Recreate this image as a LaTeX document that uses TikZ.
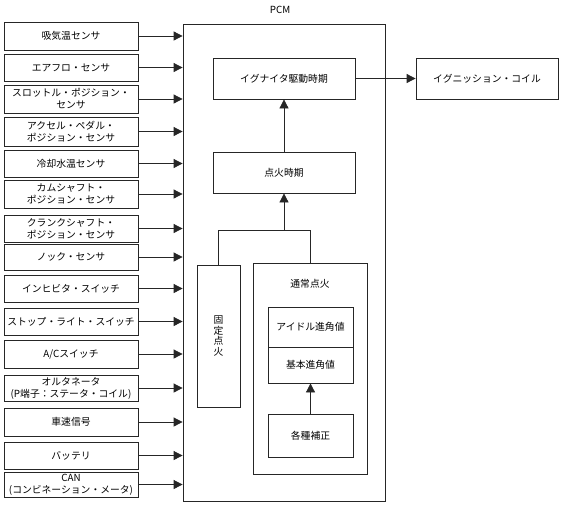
\documentclass[tikz,border=0pt]{standalone}
\usepackage{fontspec}
\setmainfont{Noto Sans CJK JP}
\usetikzlibrary{arrows.meta}
\begin{document}
\begin{tikzpicture}[x=1pt,y=-1pt,
  box/.style={draw=black!85, line width=0.8pt, inner sep=0pt, align=center,
    font=\fontsize{9.8}{12}\selectfont},
  inbox/.style={box, minimum width=134pt},
  conn/.style={draw=black!85, line width=0.8pt},
  arr/.style={conn, -{Triangle[length=9pt,width=9pt]}},
  lbl/.style={font=\fontsize{9.8}{12}\selectfont, inner sep=0pt, align=center}]
\useasboundingbox (0,0) rectangle (561,504);
% PCM
\node[box, minimum width=202pt, minimum height=477pt] (pcm) at (284,262.5) {};
\node[lbl] (pcmlbl) at (280,10) {PCM};
% inputs
\node[inbox, minimum height=28pt] (s1) at (71,36) {吸気温センサ};
\node[inbox, minimum height=27pt] (s2) at (71,67.5) {エアフロ・センサ};
\node[inbox, minimum height=28pt] (s3) at (71,99) {スロットル・ポジション・\\センサ};
\node[inbox, minimum height=29pt] (s4) at (71,131.5) {アクセル・ペダル・\\ポジション・センサ};
\node[inbox, minimum height=27pt] (s5) at (71,163.5) {冷却水温センサ};
\node[inbox, minimum height=28pt] (s6) at (71,194) {カムシャフト・\\ポジション・センサ};
\node[inbox, minimum height=27pt] (s7) at (71,228.5) {クランクシャフト・\\ポジション・センサ};
\node[inbox, minimum height=26pt] (s8) at (71,257) {ノック・センサ};
\node[inbox, minimum height=27pt] (s9) at (71,288.5) {インヒビタ・スイッチ};
\node[inbox, minimum height=27pt] (s10) at (71,321.5) {ストップ・ライト・スイッチ};
\node[inbox, minimum height=28pt] (s11) at (71,354) {A/Cスイッチ};
\node[inbox, minimum height=26pt] (s12) at (71,388) {オルタネータ\\(P端子：ステータ・コイル)};
\node[inbox, minimum height=28pt] (s13) at (71,422) {車速信号};
\node[inbox, minimum height=27pt] (s14) at (71,455.5) {バッテリ};
\node[inbox, minimum height=25pt] (s15) at (71,484.5) {CAN\\(コンビネーション・メータ)};
\foreach \i in {1,...,15} \draw[arr] (s\i.east) -- (s\i.east -| pcm.west);
% inside PCM
\node[box, minimum width=142pt, minimum height=41pt] (ign) at (284,78.5) {イグナイタ駆動時期};
\node[box, minimum width=142pt, minimum height=41pt] (timing) at (284,172.5) {点火時期};
\node[box, minimum width=142pt, minimum height=41pt] (coil) at (487,78.5) {イグニッション・コイル};
\node[box, minimum width=43pt, minimum height=142pt, font=\fontsize{9.8}{10.5}\selectfont] (fixed) at (218.5,336) {固\\定\\点\\火};
\node[box, minimum width=114pt, minimum height=211pt] (normal) at (310,368.5) {};
\node[lbl] (normlbl) at (310,284) {通常点火};
\node[box, minimum width=85pt, minimum height=40pt] (idle) at (310.5,327) {アイドル進角値};
\node[box, minimum width=85pt, minimum height=36pt] (base) at (310.5,365) {基本進角値};
\node[box, minimum width=85pt, minimum height=43pt] (corr) at (310.5,435.5) {各種補正};
\coordinate (j) at (284,230);
\draw[conn] (fixed.north) |- (normal.north |- j) -- (normal.north);
\draw[arr] (j) -- (timing.south);
\draw[arr] (timing.north) -- (ign.south);
\draw[arr] (ign.east) -- (coil.west);
\draw[arr] (corr.north) -- (base.south);
\end{tikzpicture}
\end{document}
